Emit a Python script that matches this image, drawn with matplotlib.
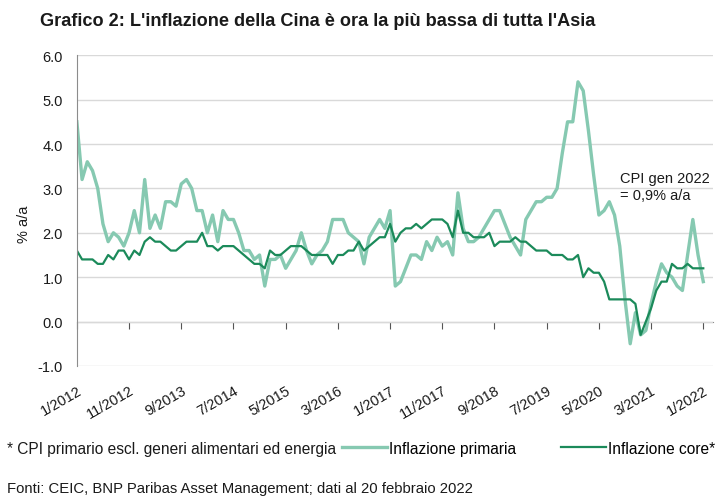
import numpy as np
import matplotlib
matplotlib.use('agg')
from matplotlib import pyplot as plt

plt.rcParams['font.family'] = ['Liberation Sans', 'DejaVu Sans']

# ------------------------------- data (monthly, 1/2012 .. 1/2022) -------------------------------
headline = [4.5, 3.2, 3.6, 3.4, 3.0, 2.2, 1.8, 2.0, 1.9, 1.7, 2.0, 2.5,
            2.0, 3.2, 2.1, 2.4, 2.1, 2.7, 2.7, 2.6, 3.1, 3.2, 3.0, 2.5,
            2.5, 2.0, 2.4, 1.8, 2.5, 2.3, 2.3, 2.0, 1.6, 1.6, 1.4, 1.5,
            0.8, 1.4, 1.4, 1.5, 1.2, 1.4, 1.6, 2.0, 1.6, 1.3, 1.5, 1.6,
            1.8, 2.3, 2.3, 2.3, 2.0, 1.9, 1.8, 1.3, 1.9, 2.1, 2.3, 2.1,
            2.5, 0.8, 0.9, 1.2, 1.5, 1.5, 1.4, 1.8, 1.6, 1.9, 1.7, 1.8,
            1.5, 2.9, 2.1, 1.8, 1.8, 1.9, 2.1, 2.3, 2.5, 2.5, 2.2, 1.9,
            1.7, 1.5, 2.3, 2.5, 2.7, 2.7, 2.8, 2.8, 3.0, 3.8, 4.5, 4.5,
            5.4, 5.2, 4.3, 3.3, 2.4, 2.5, 2.7, 2.4, 1.7, 0.5, -0.5, 0.2,
            -0.3, -0.2, 0.4, 0.9, 1.3, 1.1, 1.0, 0.8, 0.7, 1.5, 2.3, 1.5,
            0.9]

core = [1.6, 1.4, 1.4, 1.4, 1.3, 1.3, 1.5, 1.4, 1.6, 1.6, 1.4, 1.6,
        1.5, 1.8, 1.9, 1.8, 1.8, 1.7, 1.6, 1.6, 1.7, 1.8, 1.8, 1.8,
        2.0, 1.7, 1.7, 1.6, 1.7, 1.7, 1.7, 1.6, 1.5, 1.4, 1.3, 1.3,
        1.2, 1.6, 1.5, 1.5, 1.6, 1.7, 1.7, 1.7, 1.6, 1.5, 1.5, 1.5,
        1.5, 1.3, 1.5, 1.5, 1.6, 1.6, 1.8, 1.6, 1.7, 1.8, 1.9, 1.9,
        2.2, 1.8, 2.0, 2.1, 2.1, 2.2, 2.1, 2.2, 2.3, 2.3, 2.3, 2.2,
        1.9, 2.5, 2.0, 2.0, 1.9, 1.9, 1.9, 2.0, 1.7, 1.8, 1.8, 1.8,
        1.9, 1.8, 1.8, 1.7, 1.6, 1.6, 1.6, 1.5, 1.5, 1.5, 1.4, 1.4,
        1.5, 1.0, 1.2, 1.1, 1.1, 0.9, 0.5, 0.5, 0.5, 0.5, 0.5, 0.4,
        -0.3, 0.0, 0.3, 0.7, 0.9, 0.9, 1.3, 1.2, 1.2, 1.3, 1.2, 1.2,
        1.2]

tick_labels = ['1/2012', '11/2012', '9/2013', '7/2014', '5/2015', '3/2016', '1/2017',
               '11/2017', '9/2018', '7/2019', '5/2020', '3/2021', '1/2022']

# ------------------------------- plot -------------------------------
c_head = '#86c9b1'
c_core = '#1b8a5a'
c_axis = '#8c8c8c'
c_text = '#1a1a1a'

x = np.arange(len(headline))
ticks = np.arange(0, len(headline), 10)

fig = plt.figure(figsize=(7.25, 5.02), dpi=100)
ax = fig.add_axes([0.106, 0.269, 0.877, 0.619])

ax.set_ylim(-1.0, 6.0)
ax.set_xlim(0, 121.8)
ax.set_yticks(np.arange(-1, 7, 1))
ax.set_yticklabels(['{:.1f}'.format(v) for v in np.arange(-1, 7, 1)])
ax.grid(axis='y', color='#d9d9d9', lw=1.0)
ax.set_axisbelow(True)

for s in ['top', 'right', 'bottom']:
    ax.spines[s].set_visible(False)
ax.spines['left'].set_color(c_axis)
ax.tick_params(axis='y', length=0, labelsize=10.5, colors=c_text, pad=10)

ax.set_xticks(ticks)
ax.set_xticklabels(tick_labels, rotation=30, ha='right', rotation_mode='anchor')
ax.tick_params(axis='x', length=0, labelsize=10.5, colors=c_text, pad=12)

# zero axis with tick marks
zero_ax = ax.secondary_xaxis(1.0 / 7.0)
zero_ax.set_xticks(ticks)
zero_ax.set_xticklabels([])
zero_ax.spines['bottom'].set_color(c_axis)
zero_ax.tick_params(axis='x', direction='out', length=5, color='#555555')

ax.plot(x, headline, color=c_head, lw=2.4, label='Inflazione primaria')
ax.plot(x, core, color=c_core, lw=1.6, label='Inflazione core*')

ax.set_ylabel('% a/a', fontsize=10.5, color=c_text)
ax.yaxis.set_label_coords(-0.072, 0.46)

ax.text(104, 3.4, 'CPI gen 2022\n= 0,9% a/a', fontsize=10.5, color=c_text, va='top', ha='left',
        linespacing=1.3)

fig.text(0.055, 0.957, "Grafico 2: L'inflazione della Cina è ora la più bassa di tutta l'Asia",
         fontsize=13.1, fontweight='bold', color=c_text, va='center')

fig.text(0.009, 0.105, '* CPI primario escl. generi alimentari ed energia', fontsize=11.2,
         color=c_text, va='center')
ax.legend(loc='center left', bbox_to_anchor=(0.472, 0.105), bbox_transform=fig.transFigure,
          ncol=2, frameon=False, fontsize=11.2, handlelength=2.9, handletextpad=0.1,
          columnspacing=2.9, borderaxespad=0, borderpad=0)

fig.text(0.009, 0.025, 'Fonti: CEIC, BNP Paribas Asset Management; dati al 20 febbraio 2022',
         fontsize=10.7, color=c_text, va='center')

fig.savefig('out.png', dpi=100)
